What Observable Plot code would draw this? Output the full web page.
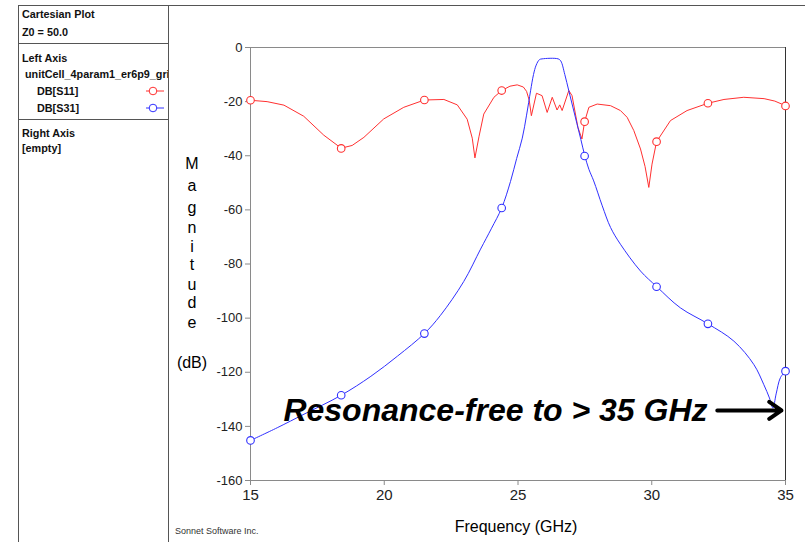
<!DOCTYPE html>
<html>
<head>
<meta charset="utf-8">
<script src="https://cdn.jsdelivr.net/npm/d3@7"></script>
<script src="https://cdn.jsdelivr.net/npm/@observablehq/plot@0.6"></script>
<style>
  html, body { margin: 0; padding: 0; background: #fff; }
  #chart { position: relative; width: 805px; height: 542px; overflow: hidden; }
</style>
</head>
<body>
<div id="chart"></div>
<script>
// ---- Data ----
const s11Freq = [15, 15.62, 16.25, 16.99, 17.74, 18.39, 18.8, 19.24, 19.98, 20.73, 21.5, 22.23, 22.73, 23.1, 23.29, 23.39, 23.54, 23.72, 24.1, 24.39, 24.7, 24.97, 25.2, 25.32, 25.42, 25.5, 25.69, 25.9, 26.09, 26.28, 26.46, 26.56, 26.65, 26.9, 27.02, 27.24, 27.39, 27.49, 27.65, 27.96, 28.46, 28.83, 29.08, 29.33, 29.58, 29.75, 29.89, 30.01, 30.18, 30.7, 31.32, 32.1, 32.7, 33.44, 34.2, 34.6, 35];
const s11dB   = [-19.5, -20.0, -21.3, -25.4, -32.4, -37.2, -36.2, -33.2, -26.4, -22.1, -19.4, -19.2, -21.2, -26.5, -33.5, -40.8, -33.0, -24.6, -18.4, -15.9, -14.3, -13.8, -14.6, -16.2, -19.5, -25.2, -16.9, -17.8, -24.0, -18.4, -23.1, -21.2, -23.3, -15.9, -17.8, -29.5, -33.8, -27.4, -22.1, -20.9, -21.5, -23.3, -25.8, -30.7, -37.5, -44.0, -51.7, -43.1, -34.8, -27.0, -23.3, -20.6, -19.2, -18.4, -18.9, -19.8, -21.5];

const s31Freq = [15, 16.0, 17.0, 18.39, 19.5, 20.5, 21.5, 22.1, 22.97, 23.6, 24.0, 24.39, 24.72, 24.95, 25.16, 25.32, 25.47, 25.58, 25.68, 25.8, 25.9, 26.5, 26.6, 26.75, 26.9, 27.05, 27.2, 27.35, 27.5, 27.65, 27.83, 28.15, 28.46, 28.83, 29.58, 30.19, 31.07, 32.1, 33.07, 33.82, 34.19, 34.4, 34.53, 34.65, 34.81, 35];
const s31dB   = [-145.2, -140.5, -135.5, -128.5, -121.5, -114.0, -105.7, -99.0, -86.5, -74.5, -67.0, -59.3, -49.5, -41.0, -33.5, -25.0, -16.0, -10.0, -6.5, -4.5, -4.2, -4.2, -5.0, -10.0, -16.0, -22.0, -28.0, -34.0, -40.1, -45.0, -49.3, -58.5, -66.5, -72.7, -82.6, -88.4, -96.2, -102.1, -108.5, -117.2, -124.6, -129.5, -133.2, -128.0, -122.0, -119.6];

const markerFreq = [15, 18.39, 21.5, 24.39, 27.49, 30.18, 32.1, 35];
const s11Marker  = [-19.5, -37.3, -19.4, -15.9, -27.4, -34.8, -20.6, -21.6];
const s31Marker  = [-145.2, -128.5, -105.7, -59.3, -40.1, -88.4, -102.1, -119.6];

const xTicks = [15, 20, 25, 30, 35];
const yTicks = [0, -20, -40, -60, -80, -100, -120, -140, -160];

const annotationText = ["Resonance-free to > 35 GHz"];
const annotationPos  = [16.23, -134.1];
const arrowFrom = [32.45, -134.1];
const arrowTo   = [34.85, -134.1];

const seriesNames  = ["DB[S11]", "DB[S31]"];
const seriesColors = ["#ff3030", "#3030ff"];

// ---- Build tables ----
const s11 = s11Freq.map((f, i) => ({f, v: s11dB[i]}));
const s31 = s31Freq.map((f, i) => ({f, v: s31dB[i]}));
const m11 = markerFreq.map((f, i) => ({f, v: s11Marker[i]}));
const m31 = markerFreq.map((f, i) => ({f, v: s31Marker[i]}));

const font = "'Liberation Sans', Arial, sans-serif";

const plot = Plot.plot({
  width: 805,
  height: 542,
  marginLeft: 250,
  marginRight: 20,
  marginTop: 47,
  marginBottom: 62,
  style: {fontFamily: font, fontSize: "13px", color: "#222", background: "transparent"},
  x: {domain: [15, 35], label: null},
  y: {domain: [-160, 0], label: null},
  marks: [
    Plot.frame({stroke: "#8a8a8a"}),
    Plot.ruleX([35], {stroke: "#333"}),
    Plot.axisX({ticks: xTicks, tickSize: 5, tickPadding: 4, fontSize: 15, label: null, tickFormat: d => String(d)}),
    Plot.axisY({ticks: yTicks, tickSize: 5, tickPadding: 3, fontSize: 13, label: null, tickFormat: d => String(d).replace("−", "-")}),
    Plot.line(s11, {x: "f", y: "v", stroke: seriesColors[0], strokeWidth: 1, clip: true}),
    Plot.line(s31, {x: "f", y: "v", stroke: seriesColors[1], strokeWidth: 1, curve: "catmull-rom", clip: true}),
    Plot.dot(m11, {x: "f", y: "v", r: 3.8, stroke: seriesColors[0], fill: "white", strokeWidth: 1.1}),
    Plot.dot(m31, {x: "f", y: "v", r: 3.8, stroke: seriesColors[1], fill: "white", strokeWidth: 1.1}),
    Plot.text(annotationText, {x: annotationPos[0], y: annotationPos[1], text: d => d, textAnchor: "start", lineAnchor: "middle", fontSize: 32, fontWeight: "bold", fontStyle: "italic", fill: "#000"}),
    Plot.arrow([0], {x1: arrowFrom[0], y1: arrowFrom[1], x2: arrowTo[0], y2: arrowTo[1], stroke: "#000", strokeWidth: 4, headLength: 5.6, headAngle: 70})
  ]
});

plot.style.position = "absolute";
plot.style.left = "0px";
plot.style.top = "0px";
document.getElementById("chart").appendChild(plot);

// Axis tick colour
d3.select(plot).selectAll('[aria-label="x-axis tick"], [aria-label="y-axis tick"]').attr("stroke", "#8a8a8a");

const svg = d3.select(plot);
const g = svg.append("g").attr("font-family", font).attr("text-anchor", "start");

// Axis titles
const mag = ["M", "a", "g", "n", "i", "t", "u", "d", "e"];
const magY = [169, 191, 213, 233, 252, 270, 290, 308, 328];
mag.forEach((c, i) => {
  g.append("text").attr("x", 192).attr("y", magY[i]).attr("text-anchor", "middle")
    .attr("font-size", 16).attr("fill", "#000").text(c);
});
g.append("text").attr("x", 192).attr("y", 368).attr("text-anchor", "middle")
  .attr("font-size", 16).attr("fill", "#000").text("(dB)");
g.append("text").attr("x", 516).attr("y", 532).attr("text-anchor", "middle")
  .attr("font-size", 16).attr("fill", "#000").text("Frequency (GHz)");
g.append("text").attr("x", 175).attr("y", 534).attr("font-size", 9).attr("fill", "#333")
  .attr("text-anchor", "start").text("Sonnet Software Inc.");

// Left panel frame
const lineC = "#555";
g.append("line").attr("x1", 18).attr("x2", 805).attr("y1", 5.5).attr("y2", 5.5).attr("stroke", lineC);
g.append("line").attr("x1", 18.5).attr("x2", 18.5).attr("y1", 5).attr("y2", 542).attr("stroke", lineC);
g.append("line").attr("x1", 168.5).attr("x2", 168.5).attr("y1", 5).attr("y2", 542).attr("stroke", lineC);
g.append("line").attr("x1", 18).attr("x2", 168).attr("y1", 43.5).attr("y2", 43.5).attr("stroke", lineC);
g.append("line").attr("x1", 18).attr("x2", 168).attr("y1", 119.5).attr("y2", 119.5).attr("stroke", lineC);

svg.append("defs").append("clipPath").attr("id", "panelClip")
  .append("rect").attr("x", 18).attr("y", 0).attr("width", 150).attr("height", 542);

const panel = g.append("g").attr("clip-path", "url(#panelClip)").attr("text-anchor", "start")
  .attr("font-size", 10.8).attr("font-weight", "bold").attr("fill", "#111");
panel.append("text").attr("x", 22).attr("y", 18).text("Cartesian Plot");
panel.append("text").attr("x", 22).attr("y", 36).text("Z0 = 50.0");
panel.append("text").attr("x", 22).attr("y", 62).text("Left Axis");
panel.append("text").attr("x", 25).attr("y", 78).text("unitCell_4param1_er6p9_grid");
const legY = [91, 108];
seriesNames.forEach((n, i) => {
  panel.append("text").attr("x", 37).attr("y", legY[i] + 4).text(n);
  g.append("line").attr("x1", 146).attr("x2", 164).attr("y1", legY[i]).attr("y2", legY[i])
    .attr("stroke", seriesColors[i]).attr("stroke-width", 1);
  g.append("circle").attr("cx", 153).attr("cy", legY[i]).attr("r", 3.8)
    .attr("fill", "white").attr("stroke", seriesColors[i]);
});
panel.append("text").attr("x", 22).attr("y", 137).text("Right Axis");
panel.append("text").attr("x", 22).attr("y", 152).text("[empty]");
</script>
</body>
</html>
